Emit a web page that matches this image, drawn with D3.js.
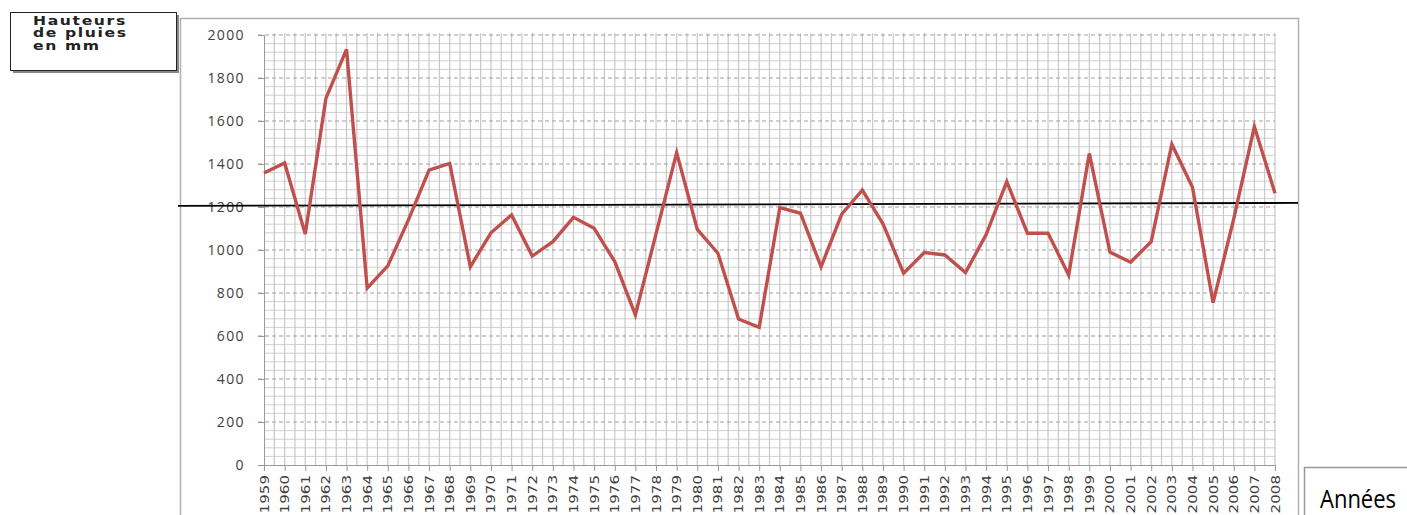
<!DOCTYPE html>
<html><head><meta charset="utf-8">
<script src="https://cdn.jsdelivr.net/npm/d3@7"></script>
<style>
html,body{margin:0;padding:0;background:#fff;}
svg{display:block;}
</style></head>
<body>
<svg id="c" width="1407" height="515"></svg>
<script>
const years = d3.range(1959, 2009);
const rainfall = [1358,1405,1074,1705,1933,823,926,1140,1372,1403,
  922,1080,1163,972,1039,1152,1101,946,698,1075,
  1453,1096,985,679,640,1197,1171,922,1167,1279,
  1122,892,988,977,895,1072,1318,1078,1078,884,
  1449,990,943,1039,1492,1292,755,1145,1574,1264];
const meanLine = 1212;
const yTicks = [0,200,400,600,800,1000,1200,1400,1600,1800,2000];
const yTitle = ["Hauteurs","de pluies","en mm"];
const xTitle = "Années";

const svg = d3.select("#c");
const x = d3.scaleLinear().domain([1959,2008]).range([264,1275]);
const y = d3.scaleLinear().domain([0,2000]).range([465,35]);

svg.append("rect").attr("x",180.5).attr("y",18.5).attr("width",1118).attr("height",520)
  .attr("fill","#fff").attr("stroke","#b0b0b0").attr("stroke-width",1.5);

const g = svg.append("g");
g.selectAll(".hm").data(d3.range(40,2000,40).filter(v=>v%200!==0)).join("line")
  .attr("x1",264).attr("x2",1275).attr("y1",d=>y(d)).attr("y2",d=>y(d))
  .attr("stroke","#d0d0d0").attr("stroke-width",1);
g.selectAll(".vg").data(d3.range(1959.5,2008.01,0.5)).join("line")
  .attr("x1",d=>x(d)).attr("x2",d=>x(d)).attr("y1",y(2000)-2).attr("y2",y(0))
  .attr("stroke","#c8c8c8").attr("stroke-width",1.2);
g.selectAll(".hM").data(yTicks.filter(v=>v>0)).join("line")
  .attr("x1",258).attr("x2",1275).attr("y1",d=>y(d)).attr("y2",d=>y(d))
  .attr("stroke","#a0a0a0").attr("stroke-width",1.2).attr("stroke-dasharray","4,3");

const yAxis = d3.axisLeft(y).tickValues(yTicks).tickSize(6).tickPadding(13).tickFormat(d3.format("d"));
const ya = svg.append("g").attr("transform","translate(264,0)").call(yAxis);
ya.select(".domain").attr("stroke","#999");
ya.selectAll(".tick line").attr("stroke","#999");
ya.selectAll("text").attr("font-family","'Open Sans', 'Liberation Sans', sans-serif")
  .attr("font-size",14).attr("letter-spacing",1.4).attr("fill","#404040");

const xAxis = d3.axisBottom(x).tickValues(years).tickSize(6).tickFormat(d3.format("d"));
const xa = svg.append("g").attr("transform","translate(0,465)").call(xAxis);
xa.select(".domain").attr("stroke","#999");
xa.selectAll(".tick line").attr("stroke","#999");
xa.selectAll("text")
  .attr("font-family","'Liberation Sans Narrow','DejaVu Sans Condensed','Liberation Sans',sans-serif")
  .attr("font-size",12).attr("fill","#404040")
  .attr("text-anchor","end").attr("dy",0).attr("y",0)
  .attr("transform","translate(4,10) rotate(-90) scale(1.4,1)");

svg.append("line").attr("x1",178).attr("x2",1298).attr("y1",y(meanLine)+1.5).attr("y2",y(meanLine)-1.5)
  .attr("stroke","#000").attr("stroke-width",1.8);

svg.append("path").datum(years.map((yr,i)=>[yr,rainfall[i]]))
  .attr("fill","none").attr("stroke","#c0504d").attr("stroke-width",3.4)
  .attr("stroke-linejoin","miter")
  .attr("d", d3.line().x(d=>x(d[0])).y(d=>y(d[1])));

// y title box
svg.append("rect").attr("x",13).attr("y",15).attr("width",166).attr("height",58).attr("fill","#888");
svg.append("rect").attr("x",10.5).attr("y",12.5).attr("width",166).attr("height",58)
  .attr("fill","#fff").attr("stroke","#222").attr("stroke-width",1);
svg.append("text")
  .attr("font-family","'DejaVu Sans', Verdana, sans-serif").attr("font-weight","bold")
  .attr("font-size",12.5).attr("letter-spacing",1.3).attr("fill","#222")
  .attr("transform","translate(33,25) scale(1.25,1)")
  .selectAll("tspan").data(yTitle).join("tspan")
  .attr("x",0).attr("y",(d,i)=>i*12.5).text(d=>d);

// x title box
svg.append("rect").attr("x",1307).attr("y",470).attr("width",110).attr("height",60).attr("fill","#999");
svg.append("rect").attr("x",1304.5).attr("y",467.5).attr("width",110).attr("height",60)
  .attr("fill","#fff").attr("stroke","#999").attr("stroke-width",1.5);
svg.append("text")
  .attr("font-family","'Liberation Sans Narrow','Open Sans',sans-serif")
  .attr("font-size",22).attr("fill","#000")
  .attr("transform","translate(1320,508) scale(1,1.15)")
  .text(xTitle);
</script>
</body></html>
